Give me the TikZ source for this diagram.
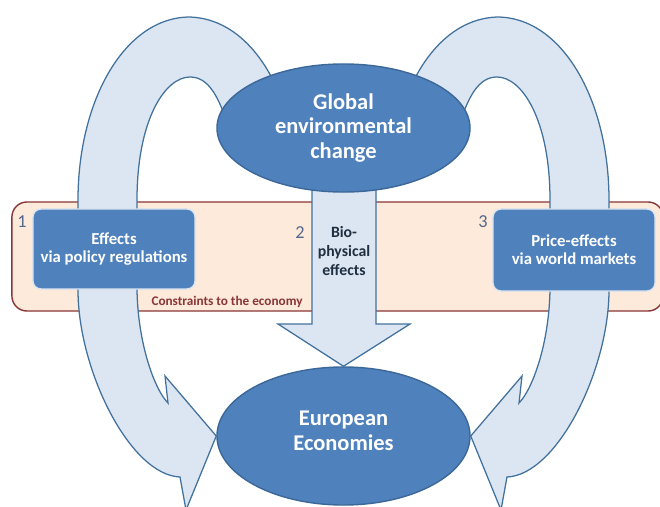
\documentclass[tikz,border=0pt]{standalone}
\usepackage{fontspec}
\setmainfont{Carlito}
\usetikzlibrary{shapes.geometric,backgrounds}

\definecolor{boxblue}{HTML}{4F81BD}
\definecolor{edgeblue}{HTML}{3B6898}
\definecolor{flowfill}{HTML}{DCE6F2}
\definecolor{flowedge}{HTML}{41719C}
\definecolor{zonefill}{HTML}{FDEADA}
\definecolor{zoneedge}{HTML}{8A3535}
\definecolor{numblue}{HTML}{51698E}
\definecolor{inkdark}{HTML}{1F2F40}

\tikzset{
  blob/.style={ellipse, fill=boxblue, draw=edgeblue, line width=1pt, text=white,
    inner sep=0pt, align=center, minimum width=6.325cm,
    font=\bfseries\fontsize{16}{17.7}\selectfont},
  panel/.style={rectangle, rounded corners=0.2cm, fill=boxblue, draw=white!80!boxblue,
    line width=1pt, text=white, align=center, minimum width=4.05cm, minimum height=2cm,
    font=\bfseries\fontsize{11.9}{12.8}\selectfont},
  flow/.style={fill=flowfill, draw=flowedge, line width=0.9pt},
  zone/.style={rectangle, rounded corners=0.375cm, fill=zonefill, draw=zoneedge, line width=1pt},
  num/.style={text=numblue, font=\fontsize{13}{15}\selectfont},
}

\begin{document}
\begin{tikzpicture}[x=0.025cm, y=-0.025cm]
  \useasboundingbox (0,0) rectangle (660,507);

  \node[blob, minimum height=3.2cm] (global) at (343.5,128) {Global\\environmental\\change};
  \node[blob, minimum height=3.45cm, text depth=7pt] (europe) at (343.5,436) {European\\Economies};
  \node[panel] (policy) at (114,249) {Effects\\via policy regulations};
  \node[panel, minimum height=2.05cm] (markets) at (574,250) {Price-effects\\via world markets};

  \node[text=inkdark, align=center, font=\bfseries\fontsize{11.2}{13.8}\selectfont] (bio) at (344,251) {Bio-\\physical\\effects};
  \node[text=zoneedge, font=\bfseries\fontsize{9.4}{11}\selectfont] (constraints) at (227,302) {Constraints to the economy};

  \node[num] (n1) at (22,222) {1};
  \node[num] (n2) at (300,233) {2};
  \node[num] (n3) at (483,222) {3};

  \begin{scope}[on background layer]
    \clip (0,0) rectangle (660,507);
    \node[zone, minimum width=16.275cm, minimum height=2.725cm] (zone) at (337.5,256.5) {};

    % the two loops, the right one is the left one mirrored
    \foreach \s/\dx/\tip in {1/0/west,-1/687/east}{
      \begin{scope}[shift={(\dx,0)}, xscale=\s]
        \draw[flow] (288,120) .. controls (275,70) and (242,19) .. (190,17)
          .. controls (125,17) and (78,100) .. (78,200) -- (78,290)
          .. controls (78,370) and (130,475) .. (180,477)
          -- (186,510) -- (europe.\tip) -- (165,376) -- (168,403)
          .. controls (155,390) and (138,345) .. (137,290) -- (137,200)
          .. controls (137,120) and (165,77) .. (190,77)
          .. controls (208,77) and (220,95) .. (232,140) -- cycle;
      \end{scope}
    }

    \draw[flow] (312,170) -- (312,324) -- (278,324) -- (europe.north)
      -- (410,324) -- (376,324) -- (376,170) -- cycle;
  \end{scope}
\end{tikzpicture}
\end{document}
